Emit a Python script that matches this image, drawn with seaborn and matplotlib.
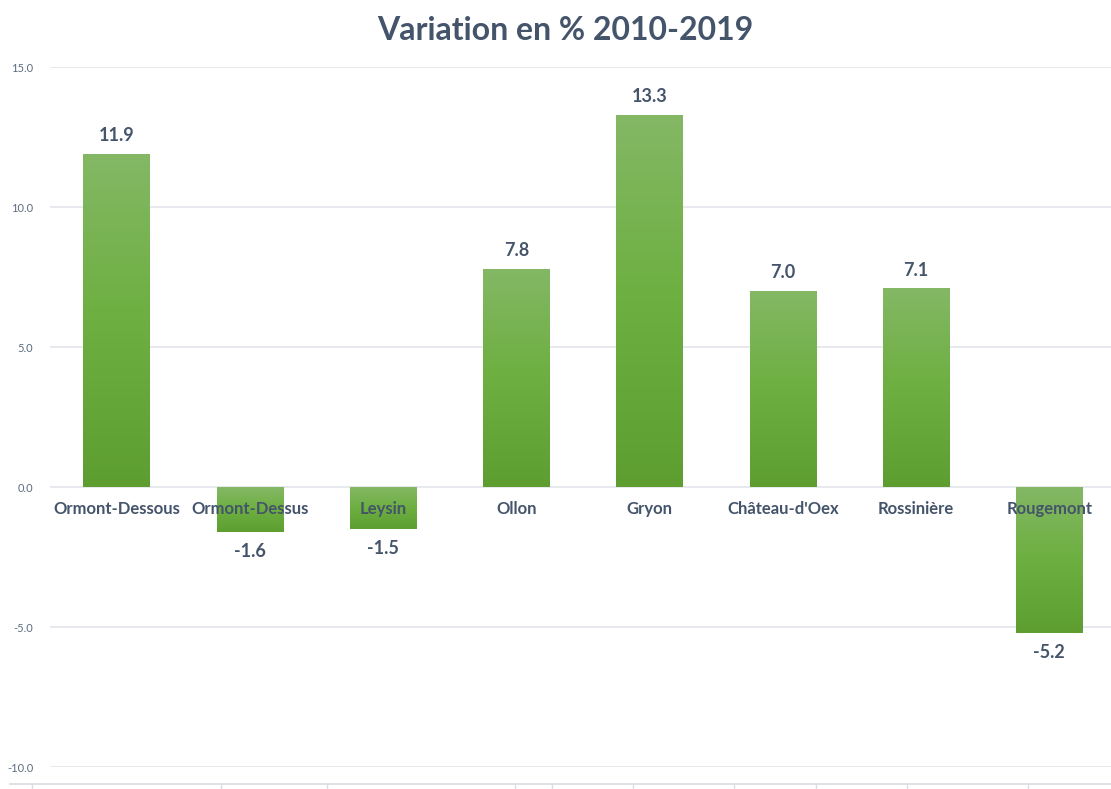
import numpy as np
import matplotlib
matplotlib.use("Agg")
import matplotlib.pyplot as plt
from matplotlib.colors import LinearSegmentedColormap
import seaborn as sns

# données
communes = ["Ormont-Dessous", "Ormont-Dessus", "Leysin", "Ollon", "Gryon",
            "Château-d'Oex", "Rossinière", "Rougemont"]
variations = [11.9, -1.6, -1.5, 7.8, 13.3, 7.0, 7.1, -5.2]
yticks = [-10, -5, 0, 5, 10, 15]
titre = "Variation en % 2010-2019"

TEXTE = "#44546A"
GRILLE = "#E3E5EB"

sns.set_theme(style="white")
plt.rcParams['font.family'] = ['Lato', 'DejaVu Sans']

fig = plt.figure(figsize=(11.11, 7.89), dpi=100)
ax = fig.add_axes([50 / 1111, 22 / 789, 1066 / 1111, 700 / 789])

sns.barplot(x=communes, y=variations, width=0.5, color="#6EAE42",
            ax=ax, saturation=1, zorder=2)

# dégradé vertical dans chaque barre
degrade = LinearSegmentedColormap.from_list("vert", ["#84B865", "#6DAF40", "#5E9E31"])
grad = np.linspace(0, 1, 256).reshape(-1, 1)
for patch in ax.patches:
    x0, y0 = patch.get_x(), patch.get_y()
    w, h = patch.get_width(), patch.get_height()
    haut, bas = max(y0, y0 + h), min(y0, y0 + h)
    im = ax.imshow(grad, cmap=degrade, aspect="auto", zorder=3,
                   extent=[x0, x0 + w, bas, haut], origin="upper")
    im.set_clip_path(patch)
    patch.set_facecolor("none")
    patch.set_edgecolor("none")

ax.set_xlim(-0.5, len(communes) - 0.5)
ax.set_ylim(-10, 15)
ax.set_yticks(yticks)
ax.set_yticklabels([f"{v:.1f}" for v in yticks], fontsize=8, color="#5B6B80")
ax.tick_params(axis="y", length=0, pad=12)
ax.set_xticks([])
ax.set_xlabel("")
ax.set_ylabel("")
ax.grid(axis="y", color=GRILLE, linewidth=1.2, zorder=0)
ax.set_axisbelow(True)
for s in ax.spines.values():
    s.set_visible(False)

# étiquettes des communes sur la ligne zéro
for i, nom in enumerate(communes):
    ax.annotate(nom, (i, 0), xytext=(0, -16), textcoords="offset points",
                ha="center", va="center", fontsize=12, fontweight="bold",
                color=TEXTE, zorder=5)

# valeurs
for i, v in enumerate(variations):
    dy = 13 if v >= 0 else -14
    ax.annotate(f"{v:.1f}", (i, v), xytext=(0, dy), textcoords="offset points",
                ha="center", va="center", fontsize=13, fontweight="bold",
                color=TEXTE, zorder=5)

fig.text(565 / 1111, 1 - 30 / 789, titre, ha="center", va="center",
         fontsize=23, fontweight="bold", color=TEXTE)

# filet inférieur avec graduations (reste du graphique d'origine)
axb = fig.add_axes([10 / 1111, 0, 1 - 10 / 1111, 5 / 789])
axb.set_xlim(10, 1111)
axb.set_ylim(0, 1)
axb.xaxis.set_ticks_position("top")
axb.set_xticks([32, 221, 327, 515, 552, 633, 734, 816, 907, 1028])
axb.set_xticklabels([])
axb.set_yticks([])
axb.tick_params(axis="x", direction="in", length=4, color="#D9DDE3", width=1)
for k, s in axb.spines.items():
    s.set_visible(k == "top")
axb.spines["top"].set_color("#D9DDE3")
axb.patch.set_alpha(0)

fig.savefig("out.png", dpi=100)
